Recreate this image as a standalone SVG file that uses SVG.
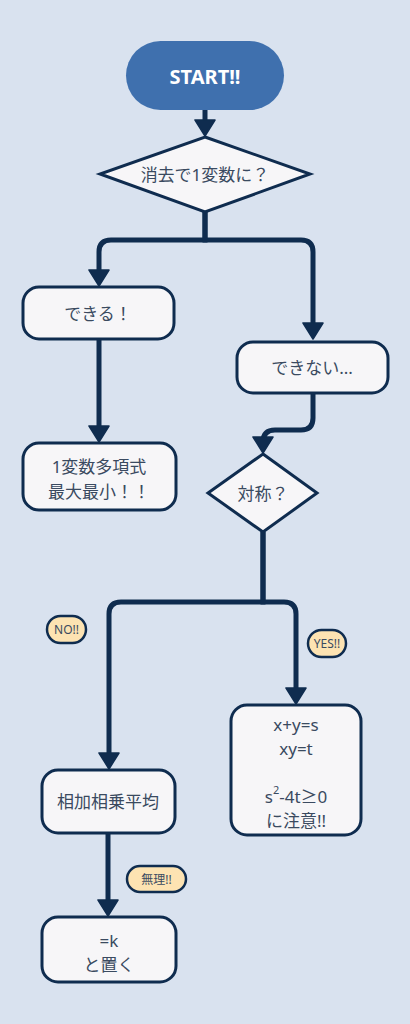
<svg xmlns="http://www.w3.org/2000/svg" width="410" height="1024" viewBox="0 0 410 1024">
<defs>
<marker id="arr" viewBox="0 0 18 22" refX="8" refY="11" markerWidth="18" markerHeight="22" markerUnits="userSpaceOnUse" orient="auto">
<path d="M1,1 L17,11 L1,21 z" fill="#0f2c4f" stroke="#0f2c4f" stroke-width="1.5" stroke-linejoin="round"/>
</marker>
<style>
.bg{fill:#d9e2ef}
.node{fill:#f7f6f8;stroke:#0f2c4f;stroke-width:3}
.lbl{fill:#fde3b2;stroke:#0f2c4f;stroke-width:2.5}
.t{font-family:"Noto Sans","Noto Sans CJK JP",sans-serif;font-size:17px;fill:#3a4a60;text-anchor:middle;dominant-baseline:central}
.s{font-family:"Noto Sans","Noto Sans CJK JP",sans-serif;font-size:12px;fill:#3a4a60;text-anchor:middle;dominant-baseline:central}
.edge{fill:none;stroke:#0f2c4f;stroke-width:5;marker-end:url(#arr)}
</style>
</defs>
<rect class="bg" x="0" y="0" width="410" height="1024"/>
<g id="connectors">
<path class="edge" d="M205,110 V127"/>
<path class="edge" d="M205,212 V240 H111 Q99,240 99,252 V277"/>
<path class="edge" d="M205,212 V240 H301 Q313,240 313,252 V330"/>
<path class="edge" d="M99,339 V433"/>
<path class="edge" d="M313,393 V418 Q313,430 301,430 H275 Q263,430 263,442 V444"/>
<path class="edge" d="M263,532 V602 H121 Q109,602 109,614 V760"/>
<path class="edge" d="M263,532 V602 H284 Q296,602 296,614 V695"/>
<path class="edge" d="M108,833 V907"/>
</g>
<g id="start">
<rect x="126" y="41" width="158" height="69" rx="34.5" fill="#3f70ae"/>
<text class="t" x="205" y="76" style="fill:#ffffff;font-weight:bold;font-size:20px">START!!</text>
</g>
<g id="q1">
<polygon class="node" points="205,137 310,174 205,212 100,174"/>
<text class="t" x="205" y="174">消去で1変数に？</text>
</g>
<g id="can">
<rect class="node" x="23" y="287" width="151" height="52" rx="16"/>
<text class="t" x="98" y="313">できる！</text>
</g>
<g id="cannot">
<rect class="node" x="237" y="342" width="151" height="51" rx="16"/>
<text class="t" x="312" y="367">できない...</text>
</g>
<g id="poly">
<rect class="node" x="23" y="443" width="153" height="67" rx="16"/>
<text class="t" x="99" y="466">1変数多項式</text>
<text class="t" x="99" y="491">最大最小！！</text>
</g>
<g id="q2">
<polygon class="node" points="263,454 317,493 263,532 208,493"/>
<text class="t" x="263" y="493">対称？</text>
</g>
<g id="no">
<rect class="lbl" x="47" y="616" width="39" height="27" rx="13.5"/>
<text class="s" x="66.5" y="629.5">NO!!</text>
</g>
<g id="yes">
<rect class="lbl" x="308" y="630" width="38" height="27" rx="13.5"/>
<text class="s" x="327" y="643.5">YES!!</text>
</g>
<g id="amgm">
<rect class="node" x="42" y="770" width="133" height="63" rx="16"/>
<text class="t" x="108" y="801">相加相乗平均</text>
</g>
<g id="sym">
<rect class="node" x="231" y="705" width="130" height="130" rx="16"/>
<text class="t" x="296" y="724">x+y=s</text>
<text class="t" x="296" y="748">xy=t</text>
<text class="t" x="296" y="796">s<tspan font-size="11" dy="-7">2</tspan><tspan dy="7">-4t≥0</tspan></text>
<text class="t" x="296" y="820">に注意!!</text>
</g>
<g id="muri">
<rect class="lbl" x="127" y="866" width="59" height="26" rx="13"/>
<text class="s" x="156.5" y="879">無理!!</text>
</g>
<g id="setk">
<rect class="node" x="42" y="917" width="134" height="65" rx="16"/>
<text class="t" x="109" y="940">=k</text>
<text class="t" x="109" y="964">と置く</text>
</g>
</svg>
